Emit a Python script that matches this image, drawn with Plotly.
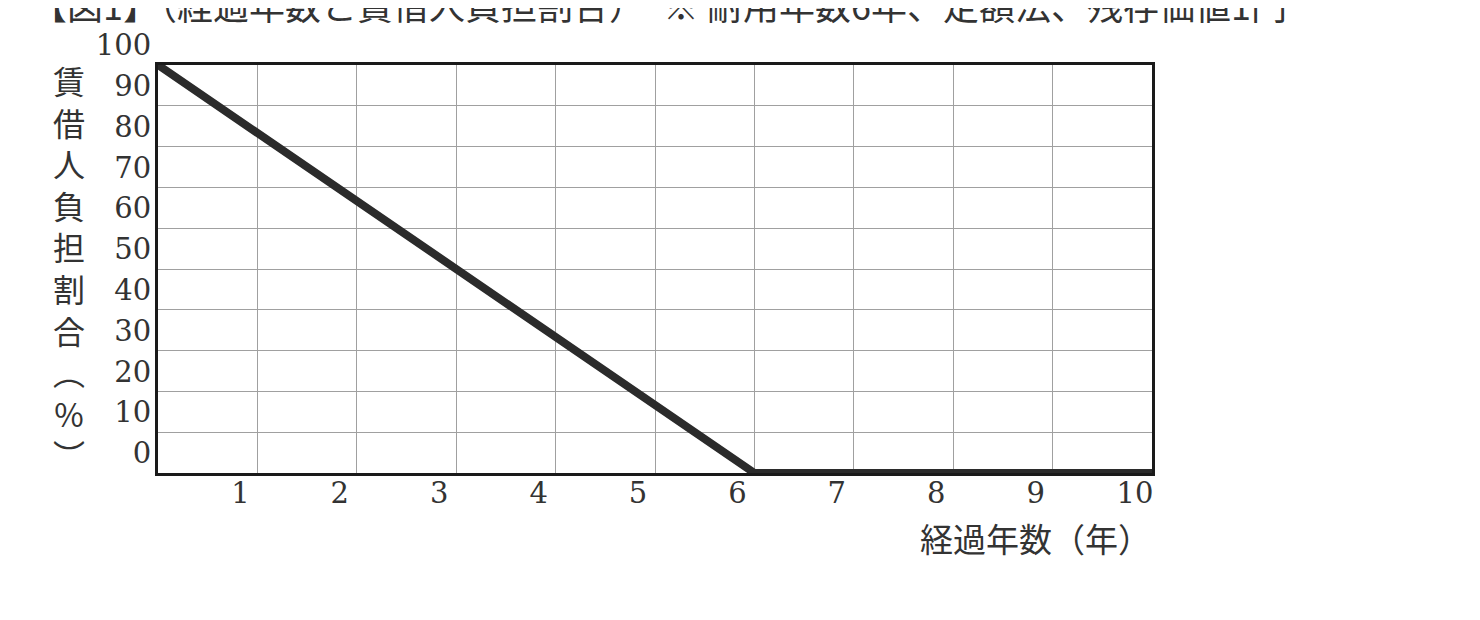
import plotly.graph_objects as go

# 経過年数と賃借人負担割合（耐用年数6年、定額法、残存価値1円）
years = [0, 6, 7, 8, 9, 10]
burden_pct = [100, 0, 0, 0, 0, 0]

x_tick_vals = [1, 2, 3, 4, 5, 6, 7, 8, 9, 10]
x_tick_text = ["1", "2", "3", "4", "5", "6", "7", "8", "9", "10"]
y_tick_vals = [0, 10, 20, 30, 40, 50, 60, 70, 80, 90, 100]
y_tick_text = ["0", "10", "20", "30", "40", "50", "60", "70", "80", "90", "100"]

title_text = "【図1】（経過年数と賃借人負担割合）　※ 耐用年数6年、定額法、残存価値1円"
y_label_chars = ["賃", "借", "人", "負", "担", "割", "合", "︵", "%", "︶"]
x_label = "経過年数（年）"

serif = "DejaVu Serif, Noto Sans CJK JP, serif"
cjk = "Noto Sans CJK JP, sans-serif"
ink = "#333333"

fig = go.Figure()
fig.add_trace(go.Scatter(
    x=years, y=burden_pct, mode="lines",
    line=dict(color="#2b2b2b", width=8),
    hoverinfo="skip", showlegend=False, cliponaxis=False,
))

fig.update_xaxes(
    range=[0, 10], tickvals=x_tick_vals, ticktext=x_tick_text,
    showgrid=True, gridcolor="#a0a0a0", gridwidth=1,
    showline=True, linecolor="#1a1a1a", linewidth=3, mirror=True,
    ticks="", ticklabelshift=-17, ticklabelstandoff=-8,
    tickfont=dict(family=serif, size=29, color=ink), zeroline=False,
)
fig.update_yaxes(
    range=[0, 100], tickvals=y_tick_vals, ticktext=y_tick_text,
    showgrid=True, gridcolor="#a0a0a0", gridwidth=1,
    showline=True, linecolor="#1a1a1a", linewidth=3, mirror=True,
    ticks="", ticklabelshift=-20, ticklabelstandoff=-2,
    tickfont=dict(family=serif, size=29, color=ink), zeroline=False,
)

fig.add_annotation(
    text=title_text, xref="paper", yref="paper", x=-0.13, y=1.15,
    xanchor="left", yanchor="middle", showarrow=False,
    font=dict(family=cjk, size=36, color=ink),
)
fig.add_annotation(
    text="<br>".join(y_label_chars), xref="paper", yref="paper", x=-0.0895, y=0.505,
    xanchor="center", yanchor="middle", showarrow=False,
    font=dict(family=cjk, size=32, color=ink),
)
fig.add_annotation(
    text=x_label, xref="paper", yref="paper", x=0.883, y=-0.159,
    xanchor="center", yanchor="middle", showarrow=False,
    font=dict(family=cjk, size=33, color=ink),
)

fig.update_layout(
    width=1480, height=620,
    margin=dict(l=150, r=336, t=57, b=155),
    paper_bgcolor="white", plot_bgcolor="white",
)

fig.write_html("out.html")
